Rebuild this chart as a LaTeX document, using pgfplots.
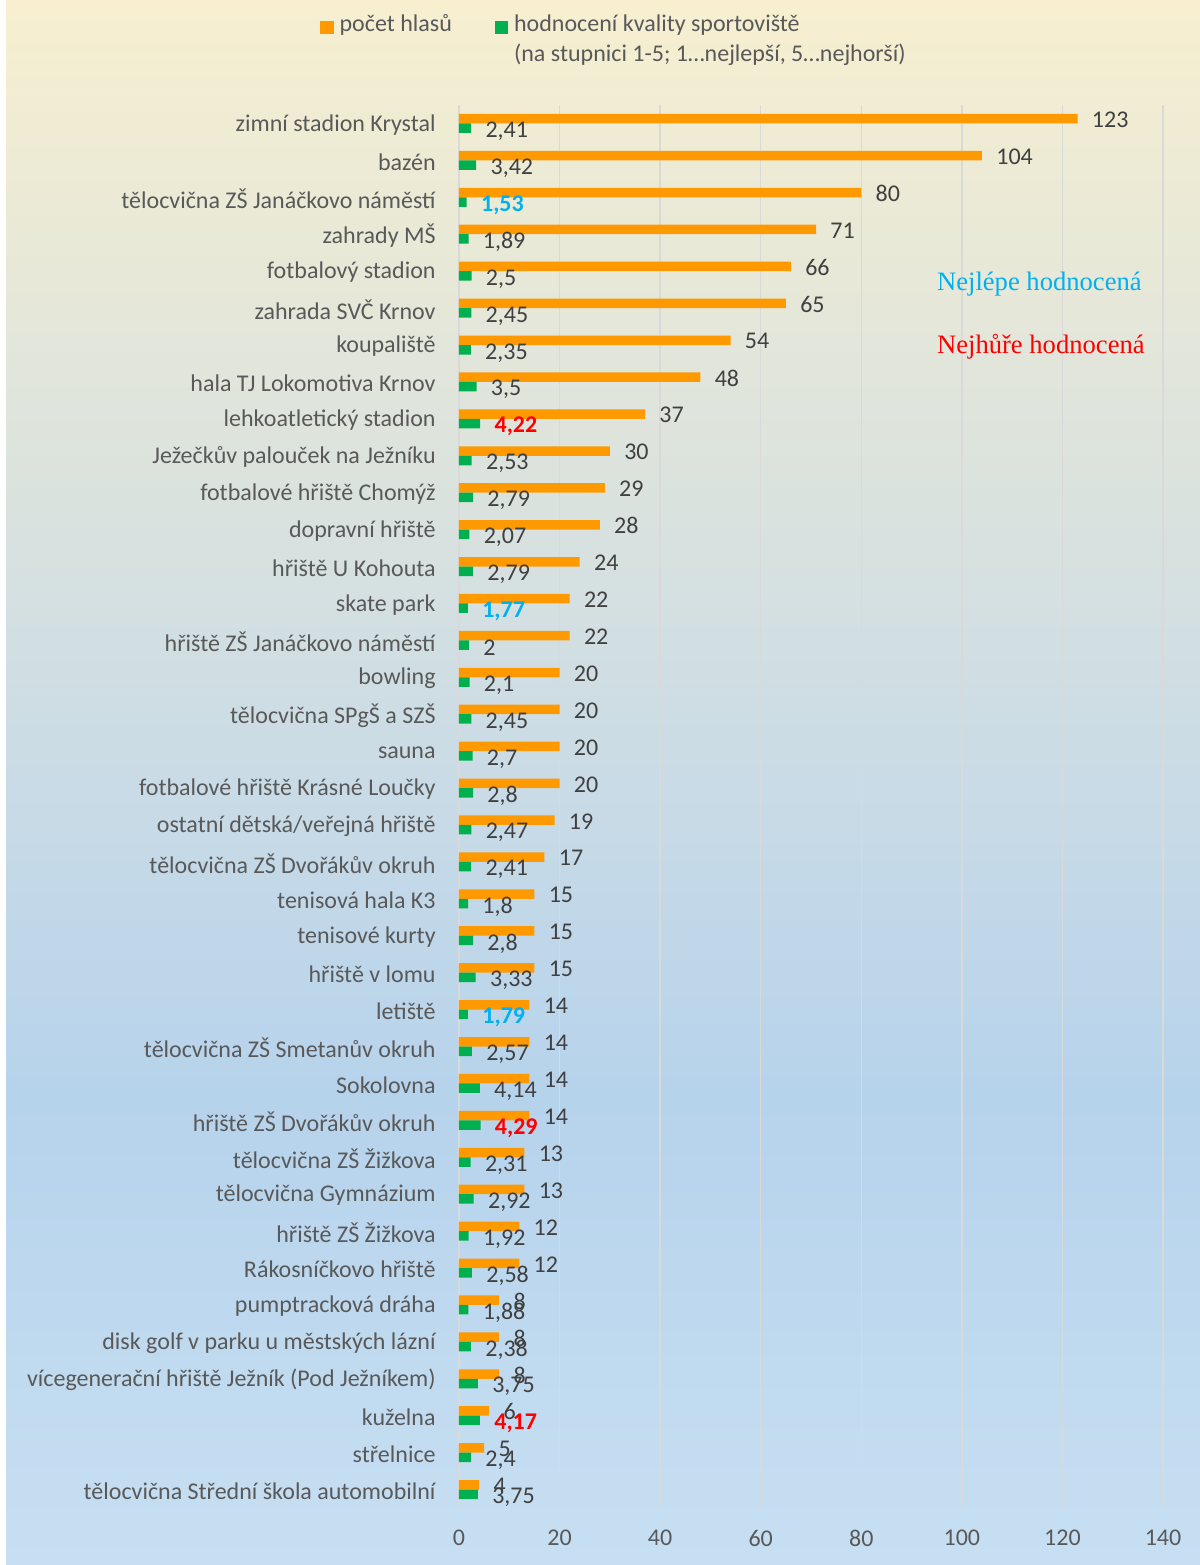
\documentclass[border=0pt]{standalone}
\usepackage{fontspec}
\setmainfont{Carlito}
\newfontfamily\annfont{Liberation Serif}
\usepackage{pgfplots}
\usepackage{pgfplotstable}
\pgfplotsset{compat=1.18}

\definecolor{barorange}{RGB}{255,153,0}
\definecolor{bargreen}{RGB}{0,176,80}
\definecolor{bestc}{RGB}{0,176,240}
\definecolor{worstc}{RGB}{255,0,0}
\definecolor{labc}{RGB}{64,64,64}
\definecolor{catc}{RGB}{89,89,89}
\definecolor{gridc}{RGB}{217,217,217}
\definecolor{bgtop}{RGB}{247,239,208}
\definecolor{bgmid}{RGB}{206,221,228}
\definecolor{bgblue}{RGB}{182,211,236}
\definecolor{bgbot}{RGB}{199,223,242}
\pgfdeclareverticalshading{bgshade}{100bp}{color(0bp)=(bgbot); color(25bp)=(bgbot); color(40bp)=(bgblue); color(52.5bp)=(bgmid); color(75bp)=(bgtop); color(100bp)=(bgtop)}

% y = poradi shora, votes = pocet hlasu, rating = hodnoceni,
% c = zvyrazneni (0 bez, 1 nejlepe, 2 nejhure)
\pgfplotstableread{
y votes rating c
0 123 2.41 0
1 104 3.42 0
2 80 1.53 1
3 71 1.89 0
4 66 2.5 0
5 65 2.45 0
6 54 2.35 0
7 48 3.5 0
8 37 4.22 2
9 30 2.53 0
10 29 2.79 0
11 28 2.07 0
12 24 2.79 0
13 22 1.77 1
14 22 2 0
15 20 2.1 0
16 20 2.45 0
17 20 2.7 0
18 20 2.8 0
19 19 2.47 0
20 17 2.41 0
21 15 1.8 0
22 15 2.8 0
23 15 3.33 0
24 14 1.79 1
25 14 2.57 0
26 14 4.14 0
27 14 4.29 2
28 13 2.31 0
29 13 2.92 0
30 12 1.92 0
31 12 2.58 0
32 8 1.88 0
33 8 2.38 0
34 8 3.75 0
35 6 4.17 2
36 5 2.4 0
37 4 3.75 0
}\data

\begin{document}
\begin{tikzpicture}
\useasboundingbox (0,0) rectangle (600pt,782.5pt);
\fill[white] (0,0) rectangle (600pt,782.5pt);
\shade[shading=bgshade] (3pt,0) rectangle (600pt,782.5pt);
\begin{axis}[
    at={(229.5pt,28.5pt)}, anchor=south west,
    scale only axis,
    width=352pt, height=701.5pt,
    xbar,
    bar width=4.75pt,
    y dir=reverse,
    xmin=0, xmax=140,
    xtick={0,20,...,140},
    ymin=-0.5, ymax=37.5,
    ytick={0,...,37},
    yticklabels={
        zimní stadion Krystal,
        bazén,
        tělocvična ZŠ Janáčkovo náměstí,
        zahrady MŠ,
        fotbalový stadion,
        zahrada SVČ Krnov,
        koupaliště,
        hala TJ Lokomotiva Krnov,
        lehkoatletický stadion,
        Ježečkův palouček na Ježníku,
        fotbalové hřiště Chomýž,
        dopravní hřiště,
        hřiště U Kohouta,
        skate park,
        hřiště ZŠ Janáčkovo náměstí,
        bowling,
        tělocvična SPgŠ a SZŠ,
        sauna,
        fotbalové hřiště Krásné Loučky,
        ostatní dětská/veřejná hřiště,
        tělocvična ZŠ Dvořákův okruh,
        tenisová hala K3,
        tenisové kurty,
        hřiště v lomu,
        letiště,
        tělocvična ZŠ Smetanův okruh,
        Sokolovna,
        hřiště ZŠ Dvořákův okruh,
        tělocvična ZŠ Žižkova,
        tělocvična Gymnázium,
        hřiště ZŠ Žižkova,
        Rákosníčkovo hřiště,
        pumptracková dráha,
        disk golf v parku u městských lázní,
        vícegenerační hřiště Ježník (Pod Ježníkem),
        kuželna,
        střelnice,
        tělocvična Střední škola automobilní},
    xmajorgrids,
    grid style={draw=gridc, line width=0.75pt},
    axis line style={draw=none},
    major tick length=0pt,
    tick style={draw=none},
    tick label style={font=\fontsize{12}{14}\selectfont, text=catc, inner sep=0pt},
    yticklabel style={yshift=-0.7pt},
    yticklabel shift=11.5pt,
    xticklabel shift=11pt,
    /pgf/number format/assume math mode=true,
    /pgf/number format/use comma,
    /pgf/number format/1000 sep={},
    clip=false,
    every node near coord/.append style={font=\fontsize{12}{14}\selectfont, text=labc, inner sep=0pt, anchor=west, xshift=7pt},
    legend style={draw=none, fill=none, at={(-0.1974,1.0677)}, anchor=north west,
        inner sep=0pt, legend columns=2, font=\fontsize{12}{15}\selectfont, text=catc,
        nodes={inner sep=0pt}, cells={anchor=base west, inner sep=0pt},
        /tikz/every odd column/.append style={column sep=3pt},
        /tikz/every even column/.append style={column sep=21.5pt}},
    legend image code/.code={\fill[#1] (0pt,-1.1pt) rectangle (6.6pt,5.4pt);},
]
\addplot[fill=barorange, draw=none, bar shift=2.375pt, point meta=x,
    nodes near coords, nodes near coords style={yshift=-0.5pt}]
    table[x=votes, y=y] {\data};
\addlegendentry{počet hlasů}
% hodnoceni - bez zvyrazneni
\addplot[fill=bargreen, draw=none, bar shift=-2.375pt, point meta=x,
    restrict expr to domain={\thisrow{c}}{0:0},
    nodes near coords, nodes near coords style={yshift=-1.5pt}]
    table[x=rating, y=y] {\data};
\addlegendentry{\begin{tabular}[t]{@{}l@{}}hodnocení kvality sportoviště\\(na stupnici 1-5; 1…nejlepší, 5…nejhorší)\end{tabular}}
% nejlepe hodnocena
\addplot[forget plot, fill=bargreen, draw=none, bar shift=-2.375pt, point meta=x,
    restrict expr to domain={\thisrow{c}}{1:1},
    nodes near coords, nodes near coords style={yshift=-1.5pt, text=bestc, font=\fontsize{12}{14}\selectfont\bfseries}]
    table[x=rating, y=y] {\data};
% nejhure hodnocena
\addplot[forget plot, fill=bargreen, draw=none, bar shift=-2.375pt, point meta=x,
    restrict expr to domain={\thisrow{c}}{2:2},
    nodes near coords, nodes near coords style={yshift=-1.5pt, text=worstc, font=\fontsize{12}{14}\selectfont\bfseries}]
    table[x=rating, y=y] {\data};
\node[anchor=west, inner sep=0pt, font=\annfont\fontsize{13.3}{16}\selectfont, text=bestc] at (axis cs:95,4.36) {Nejlépe hodnocená};
\node[anchor=west, inner sep=0pt, font=\annfont\fontsize{13.3}{16}\selectfont, text=worstc] at (axis cs:95,6.04) {Nejhůře hodnocená};
\end{axis}
\end{tikzpicture}
\end{document}
